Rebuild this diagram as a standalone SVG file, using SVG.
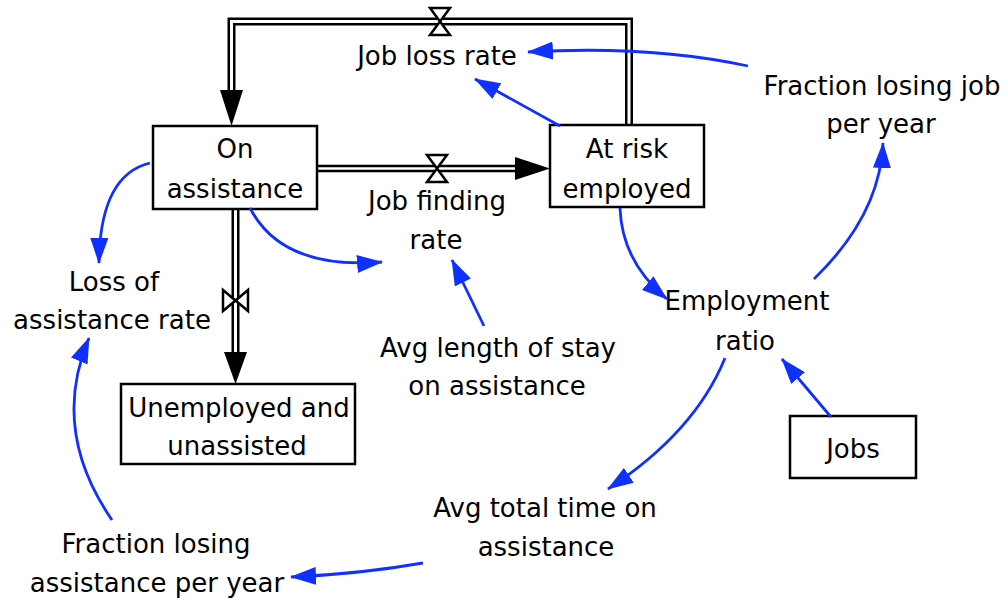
<svg xmlns="http://www.w3.org/2000/svg" width="1008" height="605" viewBox="0 0 1008 605">
  <style>
    text { font-family: "DejaVu Sans", "Liberation Sans", sans-serif; font-size: 26px; fill: #000; text-anchor: middle; }
    .stock { fill: #fff; stroke: #000; stroke-width: 2.5; }
    .pipe-outer { fill: none; stroke: #000; stroke-width: 8; }
    .pipe-inner { fill: none; stroke: #fff; stroke-width: 3; }
    .valve { fill: #fff; stroke: #000; stroke-width: 2.5; stroke-linejoin: miter; }
    .head { fill: #000; }
    .link { fill: none; stroke: #1030ff; stroke-width: 2.8; marker-end: url(#blueArrow); }
  </style>
  <defs>
    <marker id="blueArrow" viewBox="0 0 26 18" markerWidth="26" markerHeight="18" refX="25" refY="9" orient="auto" markerUnits="userSpaceOnUse">
      <path d="M0,0 L26,9 L0,18 z" fill="#1030ff"/>
    </marker>
  </defs>

  <rect width="1008" height="605" fill="#fff"/>

  <!-- Flow pipes and valves -->
  <g id="flows">
    <g id="flow-job-loss">
      <path class="pipe-outer" d="M629,125 V21.5 H231.5 V92"/>
      <path class="pipe-inner" d="M629,125 V21.5 H231.5 V92"/>
      <polygon class="head" points="220,90 243,90 231.5,126"/>
      <polygon class="valve" points="430,8 450,8 440,21.5 450,35 430,35 440,21.5"/>
    </g>
    <g id="flow-job-finding">
      <path class="pipe-outer" d="M318,168.5 H517" style="stroke-width:7.5"/>
      <path class="pipe-inner" d="M318,168.5 H517" style="stroke-width:2.5"/>
      <polygon class="head" points="515,157 515,180 550,168.5"/>
      <polygon class="valve" points="427,155 447,155 437,168.5 447,182 427,182 437,168.5"/>
    </g>
    <g id="flow-loss-of-assistance">
      <path class="pipe-outer" d="M235.5,209 V354"/>
      <path class="pipe-inner" d="M235.5,209 V354"/>
      <polygon class="head" points="224,352 247,352 235.5,384"/>
      <polygon class="valve" points="223,290 235.5,300.5 248,290 248,311 235.5,300.5 223,311"/>
    </g>
  </g>

  <!-- Stocks -->
  <g id="on-assistance">
    <rect class="stock" x="153" y="126" width="164" height="83"/>
    <text x="235" y="158">On</text>
    <text x="235" y="198">assistance</text>
  </g>
  <g id="at-risk-employed">
    <rect class="stock" x="550" y="125" width="154" height="82"/>
    <text x="627" y="158">At risk</text>
    <text x="627" y="198">employed</text>
  </g>
  <g id="unemployed-unassisted">
    <rect class="stock" x="121" y="384" width="234" height="80"/>
    <text x="239" y="417">Unemployed and</text>
    <text x="237" y="455">unassisted</text>
  </g>
  <g id="jobs">
    <rect class="stock" x="790" y="416" width="126" height="62"/>
    <text x="853" y="458">Jobs</text>
  </g>

  <!-- Rates and auxiliaries -->
  <g id="job-loss-rate"><text x="437" y="65">Job loss rate</text></g>
  <g id="job-finding-rate">
    <text x="437" y="210">Job finding</text>
    <text x="436" y="249">rate</text>
  </g>
  <g id="loss-of-assistance-rate">
    <text x="114" y="291">Loss of</text>
    <text x="112" y="329">assistance rate</text>
  </g>
  <g id="fraction-losing-job">
    <text x="882" y="95">Fraction losing job</text>
    <text x="881" y="133">per year</text>
  </g>
  <g id="employment-ratio">
    <text x="747" y="310">Employment</text>
    <text x="745" y="350">ratio</text>
  </g>
  <g id="avg-length-of-stay">
    <text x="498" y="357">Avg length of stay</text>
    <text x="497" y="395">on assistance</text>
  </g>
  <g id="avg-total-time">
    <text x="545" y="517">Avg total time on</text>
    <text x="546" y="556">assistance</text>
  </g>
  <g id="fraction-losing-assistance">
    <text x="156" y="553">Fraction losing</text>
    <text x="157" y="592">assistance per year</text>
  </g>

  <!-- Information links -->
  <g id="links">
    <path class="link" d="M748,66 Q650,45 528,52"/>
    <path class="link" d="M560,126 L475,79"/>
    <path class="link" d="M814,279 Q880,215 883,143"/>
    <path class="link" d="M620,208 Q622,262 667,299"/>
    <path class="link" d="M831,417 L782,359"/>
    <path class="link" d="M725,358 Q695,432 608,489"/>
    <path class="link" d="M423,563 Q360,574 291,577"/>
    <path class="link" d="M112,520 Q50,430 89,338"/>
    <path class="link" d="M150,163 Q100,175 99,263"/>
    <path class="link" d="M250,208 Q282,270 382,262"/>
    <path class="link" d="M484,326 L452,260"/>
  </g>
</svg>
